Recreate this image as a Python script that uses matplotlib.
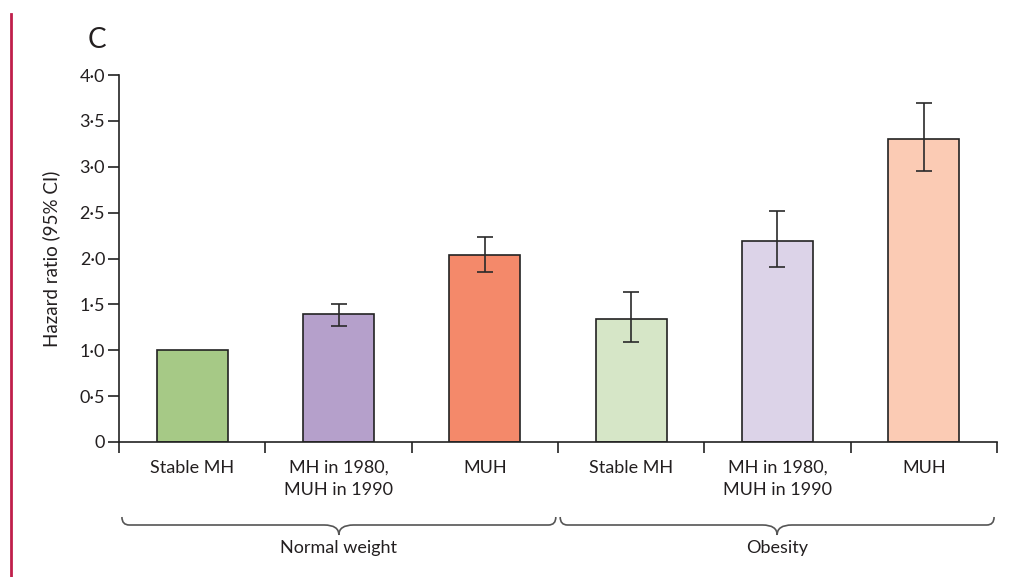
import matplotlib
matplotlib.use("Agg")
import matplotlib.pyplot as plt
from matplotlib.path import Path
from matplotlib.patches import PathPatch
from matplotlib.lines import Line2D
import matplotlib.transforms as mtransforms

# ---- data ----
categories = ["Stable MH", "MH in 1980,\nMUH in 1990", "MUH",
              "Stable MH", "MH in 1980,\nMUH in 1990", "MUH"]
groups = ["Normal weight", "Obesity"]
hr = [1.00, 1.40, 2.04, 1.34, 2.19, 3.30]
ci_low = [1.00, 1.26, 1.85, 1.09, 1.91, 2.95]
ci_high = [1.00, 1.50, 2.23, 1.63, 2.52, 3.69]
colors = ["#a6c986", "#b5a0cb", "#f4896a", "#d6e6c7", "#dcd3e8", "#fbcbb4"]
yticks = [0, 0.5, 1.0, 1.5, 2.0, 2.5, 3.0, 3.5, 4.0]
ytick_labels = ["0", "0·5", "1·0", "1·5", "2·0", "2·5", "3·0", "3·5", "4·0"]

plt.rcParams['font.family'] = ['Lato', 'DejaVu Sans']
txt = "#231f20"

W, H = 1023, 577
fig = plt.figure(figsize=(W / 100, H / 100), dpi=100)
ax = fig.add_axes([119 / W, (H - 442) / H, (997 - 119) / W, (442 - 75) / H])

x = [i + 0.5 for i in range(len(hr))]
ax.bar(x, hr, width=0.485, color=colors, edgecolor="#222222", linewidth=1.2, zorder=2)
err_lo = [h - l for h, l in zip(hr, ci_low)]
err_hi = [u - h for h, u in zip(hr, ci_high)]
has_err = [i for i in range(len(hr)) if err_lo[i] > 0 or err_hi[i] > 0]
ax.errorbar([x[i] for i in has_err], [hr[i] for i in has_err],
            yerr=[[err_lo[i] for i in has_err], [err_hi[i] for i in has_err]],
            fmt="none", ecolor="#2a2a2a", elinewidth=1.2, capsize=5.5, capthick=1.2, zorder=3)

ax.set_xlim(0, 6)
ax.set_ylim(0, 4.0)
ax.set_yticks(yticks)
ax.set_yticklabels(ytick_labels, fontsize=13, color=txt)
ax.set_xticks(range(7))
ax.set_xticklabels([])
ax.set_xticks(x, minor=True)
ax.set_xticklabels(categories, minor=True, fontsize=13, color=txt, linespacing=1.45, va="top")
ax.tick_params(axis="x", which="minor", length=0, pad=13)
ax.tick_params(axis="both", which="major", length=8, width=1.2, color="#222222", direction="out")
ax.tick_params(axis="y", pad=2)
for s in ["top", "right"]:
    ax.spines[s].set_visible(False)
for s in ["left", "bottom"]:
    ax.spines[s].set_linewidth(1.2)
    ax.spines[s].set_color("#222222")

ax.set_ylabel("Hazard ratio (95% CI)", fontsize=13.5, color=txt, labelpad=14)
fig.text(88 / W, 1 - 40 / H, "C", fontsize=20, color=txt, ha="left", va="center")

# braces (x in data coords, y in figure pixels)
trans = mtransforms.blended_transform_factory(ax.transData, fig.dpi_scale_trans)

def py(p):
    return (H - p) / 100.0

def brace(x0, x1):
    top, line, tip = py(517), py(525), py(535)
    mid = (x0 + x1) / 2
    r = 0.05
    verts = [(x0, top), (x0, line), (x0 + r, line),
             (mid - 2 * r, line),
             (mid, line), (mid, tip),
             (mid, line), (mid + 2 * r, line),
             (x1 - r, line),
             (x1, line), (x1, top)]
    codes = [Path.MOVETO, Path.CURVE3, Path.CURVE3,
             Path.LINETO,
             Path.CURVE3, Path.CURVE3,
             Path.CURVE3, Path.CURVE3,
             Path.LINETO,
             Path.CURVE3, Path.CURVE3]
    patch = PathPatch(Path(verts, codes), transform=trans, facecolor="none",
                      edgecolor="#555555", linewidth=1.2, clip_on=False)
    ax.add_patch(patch)

brace(0.02, 2.985)
brace(3.015, 5.98)
for gi, g in enumerate(groups):
    ax.text(1.5 + 3 * gi, py(548), g, transform=trans, ha="center", va="center",
            fontsize=13, color=txt)

fig.add_artist(Line2D([11 / W, 11 / W], [0, 1 - 14 / H], color="#c01f4b", linewidth=2,
                      transform=fig.transFigure))

fig.savefig("out.png", dpi=100, facecolor="white")
